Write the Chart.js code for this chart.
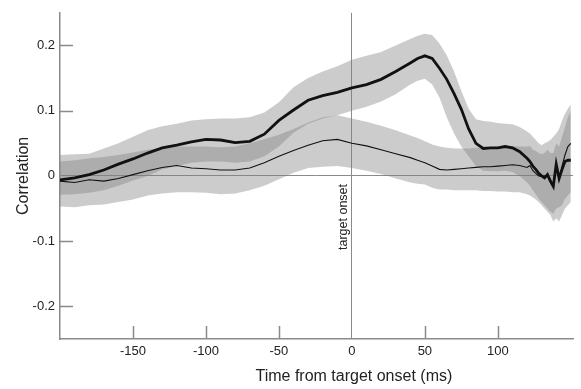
<!DOCTYPE html>
<html>
<head>
<meta charset="utf-8">
<script src="https://cdn.jsdelivr.net/npm/chart.js@4.4.0/dist/chart.umd.min.js"></script>
<style>
html,body{margin:0;padding:0;background:#fff;}
#wrap{width:581px;height:389px;position:relative;}
</style>
</head>
<body>
<div id="wrap"><canvas id="c" width="581" height="389"></canvas></div>
<script>
const times = [-200,-190,-180,-170,-160,-150,-140,-130,-120,-110,-100,-90,-80,-70,-60,-50,-40,-30,-20,-10,0,10,20,30,40,45,50,55,60,65,70,75,80,85,90,95,100,105,110,115,120,122,124,126,128,130,132,134,136,138,140,142,144,146,148,150];

const thickMean = [-0.006,-0.003,0.002,0.009,0.018,0.026,0.035,0.043,0.047,0.052,0.056,0.055,0.051,0.053,0.064,0.085,0.101,0.116,0.123,0.128,0.135,0.140,0.148,0.160,0.173,0.180,0.184,0.180,0.165,0.148,0.126,0.102,0.072,0.050,0.042,0.043,0.043,0.045,0.043,0.037,0.027,0.022,0.015,0.010,0.004,0.000,-0.003,0.002,-0.008,-0.016,0.018,-0.004,0.010,0.022,0.024,0.024];
const thickUpper = [0.032,0.033,0.034,0.042,0.050,0.060,0.070,0.076,0.080,0.085,0.087,0.088,0.088,0.090,0.097,0.113,0.136,0.150,0.160,0.168,0.178,0.184,0.190,0.200,0.210,0.215,0.218,0.216,0.203,0.185,0.160,0.130,0.103,0.087,0.084,0.083,0.081,0.080,0.079,0.075,0.068,0.065,0.060,0.055,0.050,0.047,0.050,0.052,0.055,0.060,0.065,0.072,0.085,0.095,0.103,0.110];
const thickLower = [-0.029,-0.028,-0.026,-0.022,-0.015,-0.007,0.000,0.010,0.015,0.020,0.022,0.022,0.020,0.022,0.030,0.045,0.066,0.080,0.088,0.093,0.100,0.106,0.114,0.125,0.140,0.146,0.149,0.140,0.120,0.090,0.065,0.045,0.030,0.015,0.008,0.007,0.007,0.008,0.006,0.000,-0.010,-0.015,-0.022,-0.028,-0.035,-0.040,-0.045,-0.050,-0.055,-0.058,-0.050,-0.048,-0.045,-0.035,-0.030,-0.025];

const thinMean = [-0.008,-0.010,-0.006,-0.008,-0.004,0.002,0.008,0.013,0.016,0.012,0.011,0.009,0.009,0.012,0.020,0.030,0.039,0.047,0.054,0.056,0.050,0.046,0.040,0.034,0.028,0.024,0.020,0.015,0.010,0.009,0.010,0.011,0.012,0.013,0.014,0.014,0.015,0.016,0.017,0.016,0.013,0.016,0.008,0.004,0.000,-0.001,0.000,0.002,-0.006,-0.013,0.020,-0.004,0.015,0.032,0.045,0.050];
const thinUpper = [0.022,0.024,0.027,0.029,0.032,0.036,0.040,0.043,0.045,0.045,0.045,0.044,0.045,0.050,0.056,0.063,0.072,0.082,0.090,0.093,0.088,0.083,0.077,0.070,0.062,0.058,0.053,0.048,0.045,0.043,0.042,0.042,0.042,0.043,0.043,0.043,0.044,0.045,0.046,0.045,0.045,0.046,0.040,0.038,0.035,0.033,0.035,0.040,0.035,0.035,0.050,0.045,0.060,0.075,0.090,0.100];
const thinLower = [-0.047,-0.048,-0.045,-0.044,-0.040,-0.036,-0.030,-0.027,-0.025,-0.025,-0.026,-0.028,-0.027,-0.022,-0.015,-0.005,0.005,0.012,0.014,0.015,0.012,0.008,0.003,-0.004,-0.010,-0.012,-0.013,-0.018,-0.021,-0.021,-0.022,-0.022,-0.022,-0.022,-0.023,-0.023,-0.024,-0.024,-0.025,-0.025,-0.028,-0.030,-0.033,-0.036,-0.040,-0.045,-0.050,-0.055,-0.060,-0.070,-0.065,-0.070,-0.060,-0.050,-0.045,-0.040];

const xTicks = [-150,-100,-50,0,50,100];
const yTicks = [-0.2,-0.1,0,0.1,0.2];
const xTitle = 'Time from target onset (ms)';
const yTitle = 'Correlation';
const onsetLabel = 'target onset';

function pts(arr){ return times.map((t,i)=>({x:t,y:arr[i]})); }

const AXIS = '#8a8a8a';
const BAND = 'rgba(128,128,128,0.40)';
const FONT = '"Liberation Sans", Arial, sans-serif';

const extras = {
  id:'extras',
  afterDatasetsDraw(chart){
    const ctx = chart.ctx, xs = chart.scales.x, ys = chart.scales.y, a = chart.chartArea;
    ctx.save();
    ctx.strokeStyle = AXIS; ctx.lineWidth = 1.5;
    xTicks.forEach(v=>{ if(v===0) return; const px = Math.round(xs.getPixelForValue(v))+0.5;
      ctx.beginPath(); ctx.moveTo(px,a.bottom); ctx.lineTo(px,a.bottom-13); ctx.stroke(); });
    yTicks.forEach(v=>{ if(v===0) return; const py = Math.round(ys.getPixelForValue(v))+0.5;
      ctx.beginPath(); ctx.moveTo(a.left,py); ctx.lineTo(a.left+13,py); ctx.stroke(); });
    ctx.fillStyle = '#222';
    ctx.textAlign = 'center'; ctx.textBaseline = 'middle';
    ctx.font = '16px ' + FONT;
    ctx.fillText(xTitle, xs.getPixelForValue(0) + 2, 377);
    ctx.font = '12.5px ' + FONT;
    ctx.translate(xs.getPixelForValue(0)-8, ys.getPixelForValue(-0.063));
    ctx.rotate(-Math.PI/2);
    ctx.fillText(onsetLabel, 0, 0);
    ctx.restore();
  }
};

new Chart(document.getElementById('c'), {
  type:'line',
  data:{
    datasets:[
      {label:'thick', data:pts(thickMean), borderColor:'#111', borderWidth:2.8, pointRadius:0, fill:false, tension:0},
      {label:'thin', data:pts(thinMean), borderColor:'#111', borderWidth:1.1, pointRadius:0, fill:false, tension:0},
      {label:'thickU', data:pts(thickUpper), borderWidth:0, borderColor:'rgba(0,0,0,0)', pointRadius:0, fill:'+1', backgroundColor:BAND, tension:0},
      {label:'thickL', data:pts(thickLower), borderWidth:0, borderColor:'rgba(0,0,0,0)', pointRadius:0, fill:false, tension:0},
      {label:'thinU', data:pts(thinUpper), borderWidth:0, borderColor:'rgba(0,0,0,0)', pointRadius:0, fill:'+1', backgroundColor:BAND, tension:0},
      {label:'thinL', data:pts(thinLower), borderWidth:0, borderColor:'rgba(0,0,0,0)', pointRadius:0, fill:false, tension:0}
    ]
  },
  options:{
    responsive:false, animation:false, devicePixelRatio:1,
    layout:{padding:{top:10,right:8,left:0,bottom:0}},
    plugins:{legend:{display:false}, tooltip:{enabled:false}},
    scales:{
      x:{
        type:'linear', min:-200, max:151.5,
        afterBuildTicks(s){ s.ticks = xTicks.map(v=>({value:v})); },
        afterFit(s){ s.height = 50; },
        border:{display:true, color:AXIS, width:1.5},
        grid:{drawTicks:false, lineWidth:1, color:(c)=> (c.tick && c.tick.value===0) ? AXIS : 'rgba(0,0,0,0)'},
        ticks:{color:'#222', font:{family:FONT, size:13}, padding:5, maxRotation:0, callback:(v)=>String(v)},
        title:{display:false}
      },
      y:{
        type:'linear', min:-0.25, max:0.25,
        afterBuildTicks(s){ s.ticks = yTicks.map(v=>({value:v})); },
        afterFit(s){ s.width = 60; },
        border:{display:true, color:AXIS, width:1.5},
        grid:{drawTicks:false, lineWidth:1, color:(c)=> (c.tick && c.tick.value===0) ? AXIS : 'rgba(0,0,0,0)'},
        ticks:{color:'#222', font:{family:FONT, size:13}, padding:5, callback:(v)=> (v===0?'0':String(Math.round(v*10)/10))},
        title:{display:true, text:yTitle, color:'#222', font:{family:FONT, size:16}, padding:{top:14,bottom:0}}
      }
    }
  },
  plugins:[extras]
});
</script>
</body>
</html>
